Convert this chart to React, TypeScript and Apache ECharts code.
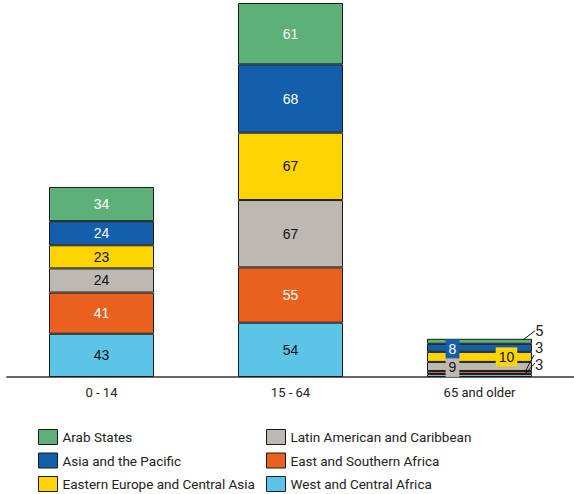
import React, { useEffect, useRef } from "react";
import * as echarts from "echarts";

// Age groups along the x axis
const ageGroups = ["0 - 14", "15 - 64", "65 and older"];

// Values per region, one entry per age group (stacked bottom to top)
const westCentralAfrica = [43, 54, 3];
const eastSouthernAfrica = [41, 55, 3];
const latinAmericanCaribbean = [24, 67, 9];
const easternEuropeCentralAsia = [23, 67, 10];
const asiaPacific = [24, 68, 8];
const arabStates = [34, 61, 5];

const regionNames = [
  "West and Central Africa",
  "East and Southern Africa",
  "Latin American and Caribbean",
  "Eastern Europe and Central Asia",
  "Asia and the Pacific",
  "Arab States",
];

const regionColors = ["#5BC4E7", "#EA601E", "#BDB9B2", "#FFD400", "#145FAB", "#5DB178"];
const labelColors = ["#111", "#fff", "#111", "#111", "#fff", "#fff"];

const BAR_WIDTH = 105;
const LABEL_FONT = "'Liberation Sans', Arial, sans-serif";
const TEXT_FONT = "Roboto, 'Noto Sans', sans-serif";
const SMALL_GROUP = 2;

// How the thin segments of the last column are labelled: inside a coloured box,
// or outside to the right with a leader line (offsets relative to the bar's
// right edge and the segment's middle)
type SmallLabel =
  | { kind: "box"; dx: number; dy: number }
  | { kind: "leader"; dy: number; from: [number, number]; to: [number, number] };

const smallLabels: SmallLabel[] = [
  { kind: "leader", dy: -10, from: [3, -12.5], to: [-8, -0.5] },
  { kind: "leader", dy: -24, from: [2, -17.5], to: [-7, -0.5] },
  { kind: "box", dx: -27, dy: 1 },
  { kind: "box", dx: 27, dy: 0 },
  { kind: "box", dx: -27, dy: 1 },
  { kind: "leader", dy: -10, from: [3, -10.5], to: [-9, -1.5] },
];

export default function App() {
  const ref = useRef<HTMLDivElement>(null);

  useEffect(() => {
    if (!ref.current) return;
    const chart = echarts.init(ref.current, null, { renderer: "svg" });

    const seriesValues = [
      westCentralAfrica,
      eastSouthernAfrica,
      latinAmericanCaribbean,
      easternEuropeCentralAsia,
      asiaPacific,
      arabStates,
    ];

    const series = seriesValues.map((values, si) => {
      const spec = smallLabels[si];
      const data = values.map((v, di) => {
        if (di !== SMALL_GROUP) return v;
        if (spec.kind === "box") {
          return {
            value: v,
            label: {
              backgroundColor: regionColors[si],
              padding: [3, 3, 2, 3],
            },
          };
        }
        return {
          value: v,
          label: {
            position: "right",
            distance: 3,
            color: "#222",
            fontFamily: TEXT_FONT,
            fontSize: 15,
          },
        };
      });
      return {
        name: regionNames[si],
        type: "bar",
        stack: "total",
        barWidth: BAR_WIDTH,
        data,
        itemStyle: { color: regionColors[si], borderColor: "#1a1a1a", borderWidth: 1 },
        label: {
          show: true,
          position: "inside",
          formatter: "{c}",
          color: labelColors[si],
          fontFamily: LABEL_FONT,
          fontSize: 14,
        },
        labelLayout: (params: any) => {
          if (params.dataIndex !== SMALL_GROUP) return {};
          if (spec.kind === "box") return { dx: spec.dx, dy: spec.dy };
          return { dy: spec.dy };
        },
      };
    });

    const legendBase = {
      orient: "vertical",
      padding: 0,
      height: 70,
      itemWidth: 19,
      itemHeight: 15,
      itemGap: 7.5,
      icon: "rect",
      itemStyle: { borderColor: "#1a1a1a", borderWidth: 1 },
      textStyle: { fontFamily: TEXT_FONT, fontSize: 13.5, color: "#222" },
      selectedMode: false,
    };

    chart.setOption({
      animation: false,
      grid: { left: 7, right: 0, top: 3, bottom: 117 },
      xAxis: {
        type: "category",
        data: ageGroups,
        axisTick: { show: false },
        axisLine: { lineStyle: { color: "#666", width: 2 } },
        axisLabel: { color: "#222", fontFamily: TEXT_FONT, fontSize: 13, margin: 9 },
      },
      yAxis: { type: "value", min: 0, max: 372, show: false },
      legend: [
        {
          ...legendBase,
          left: 38,
          top: 429,
          data: ["Arab States", "Asia and the Pacific", "Eastern Europe and Central Asia"],
        },
        {
          ...legendBase,
          left: 266,
          top: 429,
          data: ["Latin American and Caribbean", "East and Southern Africa", "West and Central Africa"],
        },
      ],
      series,
    });

    // Leader lines for the outside labels, placed through the chart's own scales
    const lines: any[] = [];
    let base = 0;
    seriesValues.forEach((values, si) => {
      const v = values[SMALL_GROUP];
      const spec = smallLabels[si];
      if (spec.kind === "leader") {
        const p = chart.convertToPixel({ gridIndex: 0 }, [SMALL_GROUP, base + v / 2]) as number[];
        const right = p[0] + BAR_WIDTH / 2;
        const mid = p[1];
        lines.push({
          type: "line",
          z: 100,
          shape: {
            x1: right + spec.from[0],
            y1: mid + spec.from[1],
            x2: right + spec.to[0],
            y2: mid + spec.to[1],
          },
          style: { stroke: "#111", lineWidth: 1 },
        });
      }
      base += v;
    });
    chart.setOption({ graphic: lines });

    return () => chart.dispose();
  }, []);

  return <div ref={ref} style={{ width: 574, height: 494, position: "absolute", left: 0, top: 0 }} />;
}
